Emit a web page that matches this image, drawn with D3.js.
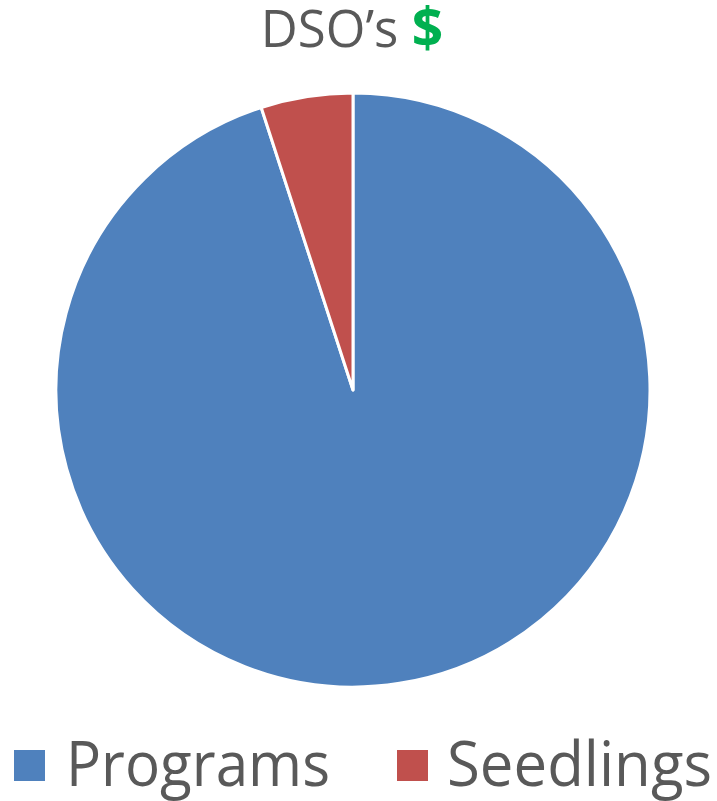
<!DOCTYPE html>
<html><head><meta charset="utf-8">
<script src="https://cdn.jsdelivr.net/npm/d3@7"></script>
<style>html,body{margin:0;padding:0;background:#fff;}svg{display:block;}</style>
</head><body>
<script>
const categories = ["Programs", "Seedlings"];
const values = [95, 5];
const colors = ["#4F81BD", "#C0504D"];
const titleText = "DSO\u2019s ";
const titleAccent = "$";

const W = 717, H = 801;
const svg = d3.select("body").append("svg").attr("width", W).attr("height", H);

const cx = 353, cy = 390, r = 297;
const pie = d3.pie().sort(null).value(d => d.v);
const arc = d3.arc().innerRadius(0).outerRadius(r);
const data = categories.map((c, i) => ({c, v: values[i]}));
const color = d3.scaleOrdinal().domain(categories).range(colors);

svg.append("g").attr("transform", `translate(${cx},${cy})`)
  .selectAll("path").data(pie(data)).join("path")
  .attr("d", arc)
  .attr("fill", d => color(d.data.c))
  .attr("stroke", "#fff").attr("stroke-width", 3).attr("stroke-linejoin", "round");

const t = svg.append("text").attr("x", 352).attr("y", 47)
  .attr("text-anchor", "middle")
  .attr("font-family", "Open Sans, sans-serif").attr("font-size", 51)
  .attr("fill", "#595959");
t.append("tspan").text(titleText);
t.append("tspan").attr("fill", "#00B050").attr("font-weight", "bold").attr("font-size", 55).text(titleAccent);

const leg = [{x: 14, tx: 66, tw: 264}, {x: 397, tx: 447, tw: 265}];
const lg = svg.append("g");
categories.forEach((c, i) => {
  lg.append("rect").attr("x", leg[i].x).attr("y", 750).attr("width", 31).attr("height", 31).attr("fill", color(c));
  lg.append("text").attr("x", leg[i].tx).attr("y", 786)
    .attr("font-family", "Open Sans, sans-serif").attr("font-size", 62)
    .attr("fill", "#595959")
    .attr("textLength", leg[i].tw).attr("lengthAdjust", "spacingAndGlyphs")
    .text(c);
});
</script>
</body></html>
